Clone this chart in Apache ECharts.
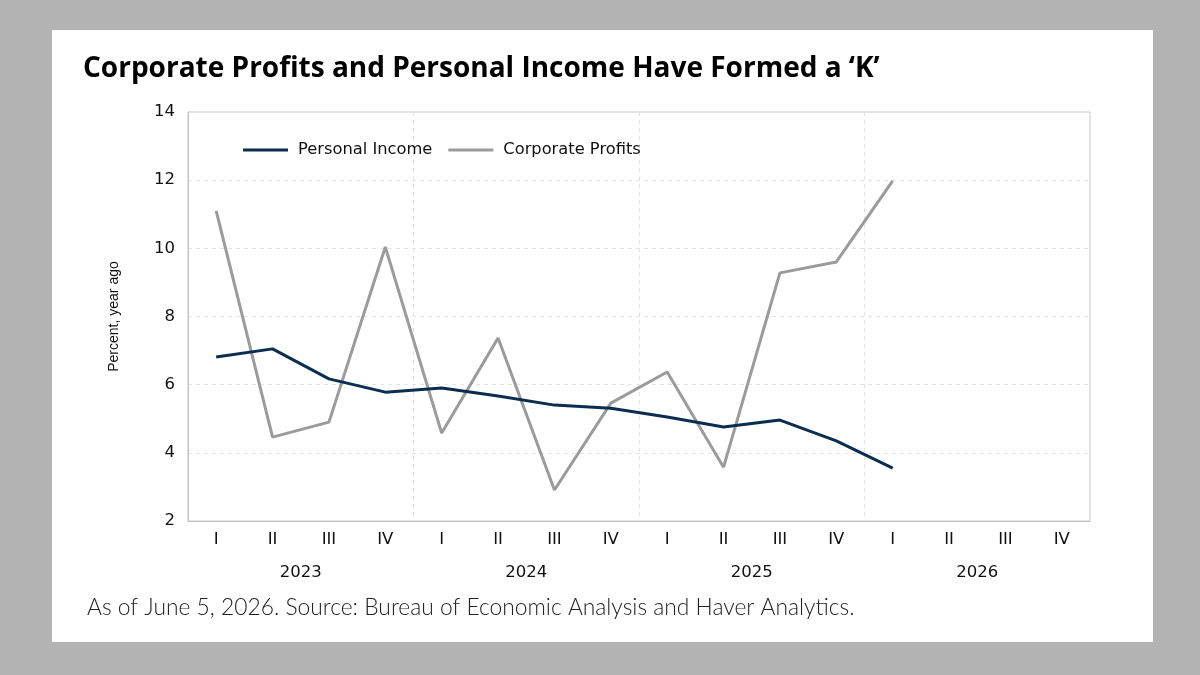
<!DOCTYPE html>
<html>
<head>
<meta charset="utf-8">
<script src="https://cdn.jsdelivr.net/npm/echarts@6/dist/echarts.min.js"></script>
<style>
  html, body { margin: 0; padding: 0; background: #b3b3b3; }
  #main { width: 1200px; height: 675px; }
</style>
</head>
<body>
<div id="main"></div>
<script>
// quarters, 2023 Q1 .. 2026 Q4
var quarters = ['I', 'II', 'III', 'IV', 'I', 'II', 'III', 'IV', 'I', 'II', 'III', 'IV', 'I', 'II', 'III', 'IV'];
var years = ['2023', '2024', '2025', '2026'];

// percent, year ago
var personalIncome = [6.81, 7.05, 6.17, 5.78, 5.90, 5.67, 5.40, 5.31, 5.05, 4.76, 4.96, 4.35, 3.55, null, null, null];
var corporateProfits = [11.10, 4.46, 4.90, 10.04, 4.58, 7.37, 2.91, 5.46, 6.37, 3.58, 9.28, 9.60, 11.98, null, null, null];

var yTicks = [2, 4, 6, 8, 10, 12, 14];

var labelFont = 'DejaVu Sans';

var chart = echarts.init(document.getElementById('main'));

var option = {
    backgroundColor: '#b3b3b3',
    animation: false,
    graphic: [
        {
            type: 'rect',
            z: -10,
            shape: { x: 52, y: 30, width: 1101, height: 612 },
            style: { fill: '#ffffff' }
        },
        {
            type: 'text',
            left: 83,
            top: 55,
            style: {
                text: 'Corporate Profits and Personal Income Have Formed a \u2018K\u2019',
                fontFamily: 'Open Sans',
                fontWeight: 'bold',
                fontSize: 28,
                fill: '#000000'
            }
        },
        {
            type: 'text',
            left: 87,
            top: 596,
            style: {
                text: 'As of June 5, 2026. Source: Bureau of Economic Analysis and Haver Analytics.',
                fontFamily: 'Lato',
                fontWeight: 300,
                fontSize: 22.8,
                fill: '#222222'
            }
        }
    ],
    legend: {
        left: 238,
        top: 137,
        itemWidth: 45,
        itemHeight: 3,
        itemGap: 16,
        icon: 'rect',
        textStyle: {
            fontFamily: labelFont,
            fontSize: 16.3,
            color: '#111111',
            padding: [0, 0, 0, 5]
        },
        data: ['Personal Income', 'Corporate Profits']
    },
    grid: {
        left: 188,
        right: 110,
        top: 112,
        bottom: 154,
        show: true,
        borderColor: '#c8c8c8',
        borderWidth: 1,
        backgroundColor: 'transparent'
    },
    xAxis: [
        {
            type: 'category',
            data: quarters,
            boundaryGap: true,
            axisLine: { show: true, lineStyle: { color: '#c0c0c0', width: 1 } },
            axisTick: { show: false },
            splitLine: { show: false },
            axisLabel: {
                fontFamily: labelFont,
                fontSize: 16.5,
                color: '#111111',
                margin: 10
            }
        },
        {
            type: 'category',
            data: years,
            position: 'bottom',
            boundaryGap: true,
            axisLine: { show: false },
            axisTick: { show: false },
            splitLine: {
                show: true,
                lineStyle: { color: '#e4e4e4', type: [4, 4], width: 1 }
            },
            axisLabel: {
                fontFamily: labelFont,
                fontSize: 16.5,
                color: '#111111',
                margin: 43
            }
        }
    ],
    yAxis: {
        type: 'value',
        min: 2,
        max: 14,
        interval: 2,
        name: 'Percent, year ago',
        nameLocation: 'middle',
        nameGap: 67,
        nameRotate: 90,
        nameTextStyle: {
            fontFamily: 'Liberation Sans',
            fontSize: 14,
            color: '#111111'
        },
        axisLine: { show: true, lineStyle: { color: '#c0c0c0', width: 1 } },
        axisTick: { show: false },
        splitLine: {
            show: true,
            lineStyle: { color: '#e4e4e4', type: [4, 4], width: 1 }
        },
        axisLabel: {
            fontFamily: labelFont,
            fontSize: 16.5,
            color: '#111111',
            margin: 13,
            formatter: function (v) {
                return yTicks.indexOf(v) >= 0 ? String(v) : '';
            }
        }
    },
    series: [
        {
            name: 'Personal Income',
            type: 'line',
            data: personalIncome,
            symbol: 'none',
            z: 3,
            itemStyle: { color: '#0b2d50' },
            lineStyle: { color: '#0b2d50', width: 3 }
        },
        {
            name: 'Corporate Profits',
            type: 'line',
            data: corporateProfits,
            symbol: 'none',
            z: 2,
            itemStyle: { color: '#9b9b9b' },
            lineStyle: { color: '#9b9b9b', width: 3 }
        }
    ]
};

chart.setOption(option);
</script>
</body>
</html>
